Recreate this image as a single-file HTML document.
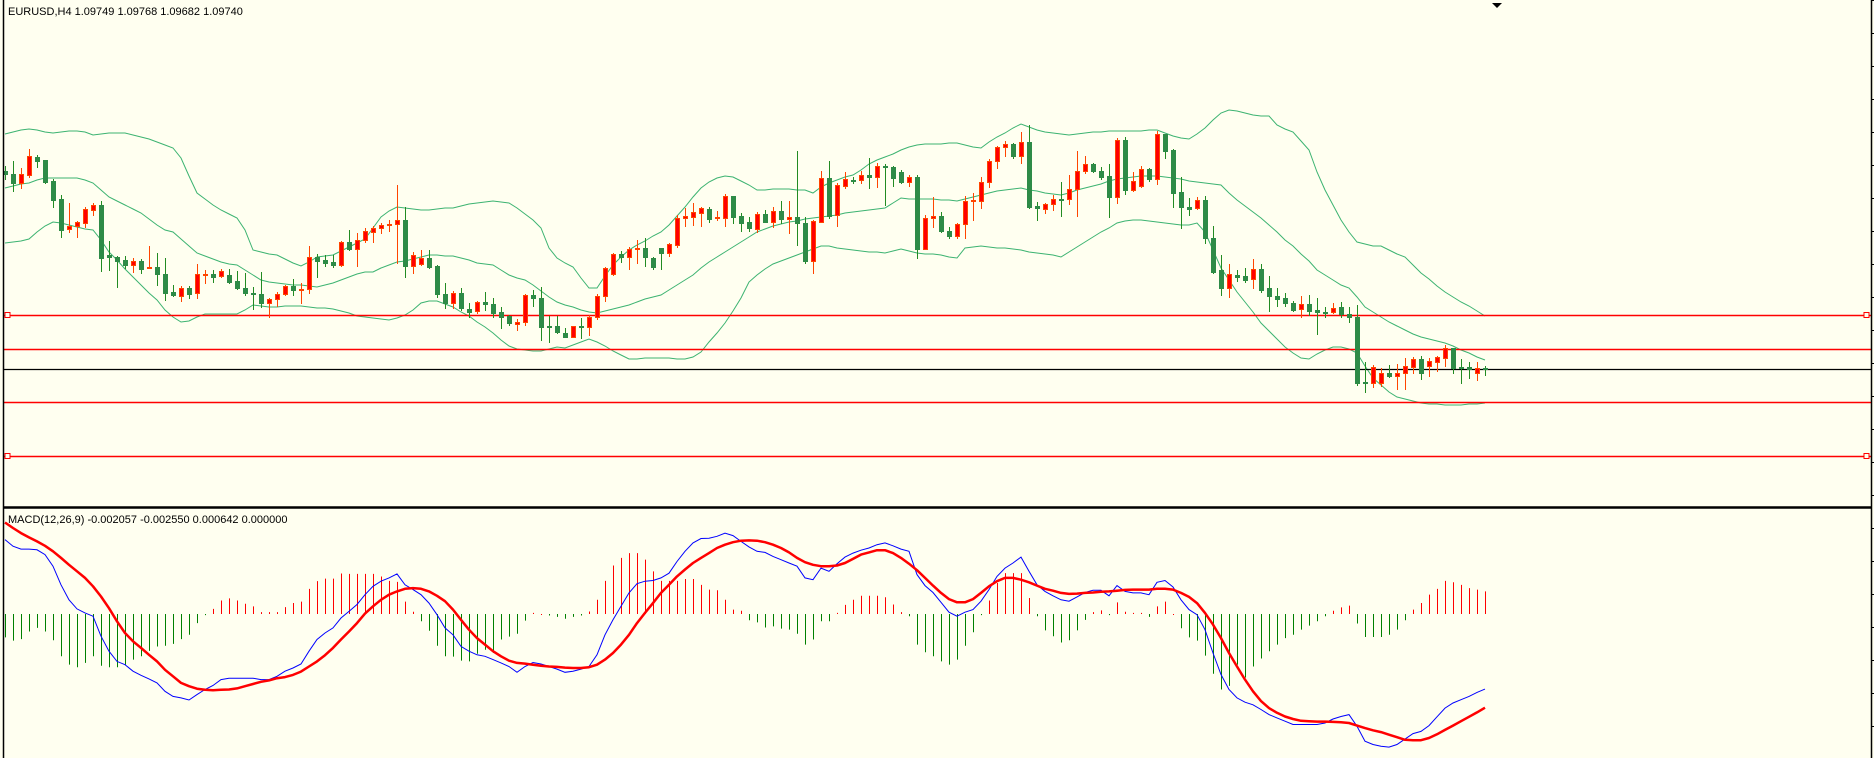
<!DOCTYPE html>
<html><head><meta charset="utf-8"><title>EURUSD H4</title>
<style>
html,body{margin:0;padding:0;background:#FFFFF0;}
svg{display:block;}
text{font-family:"Liberation Sans",sans-serif;font-size:11px;fill:#000;}
</style></head>
<body>
<svg id="chart" width="1874" height="758" viewBox="0 0 1874 758" xmlns="http://www.w3.org/2000/svg">
<rect x="0" y="0" width="1874" height="758" fill="#FFFFF0"/>
<g id="bands"></g>
<g id="levels"></g>
<g id="candles"></g>
<g id="macd"></g>
<line x1="3.5" y1="0" x2="3.5" y2="758" stroke="#000" stroke-width="1.5"/>
<line x1="1871.5" y1="0" x2="1871.5" y2="758" stroke="#000" stroke-width="1.5"/>
<line x1="3" y1="507.5" x2="1872" y2="507.5" stroke="#000" stroke-width="2.5"/>
<polygon points="1492,3 1502,3 1497,8" fill="#000"/>
<text x="8" y="15">EURUSD,H4  1.09749 1.09768 1.09682 1.09740</text>
<text x="8" y="523">MACD(12,26,9) -0.002057 -0.002550 0.000642 0.000000</text>
</svg>
<script>
// prices are in points above 1.09000 (1 point = 0.00001)
const openPts=[829,826,817,825,843,840,819,801,771,774,777,790,795,745,743,740,735,739,732,733,
726,708,704,712,707,725,726,724,725,719,712,707,706,697,701,706,714,710,711,743,
740,738,735,758,751,760,768,772,775,776,780,734,736,742,734,706,697,707,691,689,
698,696,688,684,676,678,705,702,674,674,667,663,674,673,683,704,726,746,743,751,
752,742,752,747,755,782,783,787,791,782,782,804,784,778,771,786,778,789,781,783,
777,739,778,822,785,814,820,820,825,823,834,833,828,818,823,751,782,784,769,764,
776,799,799,818,839,853,856,844,858,794,791,796,801,801,811,829,836,829,824,803,
860,810,814,831,821,866,850,808,793,792,800,762,730,712,725,724,721,731,712,704,
702,697,691,696,690,688,688,693,686,683,618,617,617,627,624,627,633,641,634,638,
642,652,633,633,627,632];
const highPts=[834,839,832,851,845,840,821,805,797,779,793,797,799,759,744,744,742,741,754,747,
742,715,714,714,736,730,730,731,731,729,727,713,728,702,708,715,721,717,754,746,
745,745,759,770,767,772,774,777,780,815,793,748,750,750,735,717,709,712,697,699,
708,702,693,685,681,706,710,713,684,684,672,674,682,685,706,733,747,749,753,760,
762,743,752,757,785,792,797,793,793,789,806,804,787,783,788,790,793,799,799,849,
783,780,829,839,817,828,823,829,842,837,836,834,830,825,825,785,803,788,773,777,
804,807,823,841,854,859,857,868,875,798,797,805,818,825,849,844,837,833,836,862,
863,828,834,832,869,866,851,823,802,803,804,774,745,736,730,732,741,736,724,712,
707,699,704,705,702,693,697,698,693,695,638,635,632,635,636,642,643,644,642,644,
655,652,641,638,638,634];
const lowPts=[821,809,812,823,833,817,793,763,768,763,773,785,729,730,713,732,728,727,732,715,
700,704,699,702,702,717,718,723,717,711,705,691,693,683,694,705,705,697,707,723,
734,733,734,750,734,758,758,767,769,737,723,727,735,732,703,692,692,690,683,687,
690,683,672,675,670,675,694,660,658,667,663,663,662,665,681,699,725,738,731,737,
734,731,731,744,753,774,775,774,778,780,774,777,769,769,768,778,773,777,767,755,
737,727,778,782,774,812,817,817,812,813,795,814,817,814,742,751,773,768,762,762,
762,780,792,813,832,844,842,837,792,780,787,790,784,796,784,827,828,821,783,797,
806,809,813,819,816,842,793,772,785,791,757,727,705,703,719,718,712,708,689,694,
694,689,683,685,666,683,687,683,678,615,608,613,614,623,611,611,627,621,624,629,
634,627,617,622,620,625];
const closePts=[826,817,826,844,839,818,800,770,774,778,791,795,742,743,739,735,739,731,733,726,
707,705,712,706,726,726,723,729,718,712,707,706,697,701,706,714,710,711,743,739,
737,735,758,751,760,769,772,775,776,780,734,745,742,733,706,697,707,692,688,698,
696,687,683,677,678,705,702,673,673,668,663,674,673,683,704,732,746,743,751,752,
743,733,747,756,782,784,788,792,781,783,804,783,777,772,786,778,789,781,783,777,
739,779,822,784,815,821,819,825,823,834,833,822,818,823,751,782,784,769,764,776,
799,800,818,839,853,856,844,858,793,792,796,801,800,811,829,836,829,823,803,860,
810,819,831,821,866,849,807,793,791,800,762,728,712,726,723,720,731,710,704,701,
697,690,696,689,688,687,692,686,683,617,617,633,627,624,627,634,641,627,639,643,
652,632,632,631,632,631];
const bbUpper=[866,868,870,871,870,868,867,868,869,869,868,865,866,867,867,867,865,863,861,858,
855,852,842,824,807,801,795,790,786,782,770,750,748,746,745,741,737,734,738,743,
744,745,749,753,757,761,772,783,789,793,792,791,790,790,791,792,792,794,796,797,
798,799,798,797,792,786,780,772,752,742,737,733,722,712,712,724,735,743,750,755,
759,764,768,775,784,793,803,812,818,822,824,823,819,815,810,810,811,811,811,810,
810,807,813,817,820,823,825,830,836,840,843,846,850,853,855,856,856,856,857,857,
855,853,852,858,863,867,872,876,873,870,868,867,866,865,866,867,868,868,869,869,
869,869,869,870,870,867,864,862,861,866,872,880,887,890,889,887,885,884,884,875,
871,868,859,850,828,810,795,780,768,758,756,754,754,750,746,743,735,727,721,714,
708,703,698,694,689,684];
const bbMiddle=[812,814,816,817,820,822,822,822,822,822,820,817,810,803,799,795,791,787,781,775,
770,768,761,754,747,744,741,738,736,735,730,725,720,718,717,716,715,715,714,713,
715,717,720,723,726,728,728,732,735,738,739,741,743,745,745,744,744,742,740,737,
736,735,730,725,722,720,715,709,703,698,695,693,690,688,687,689,691,693,695,698,
701,703,705,710,715,720,725,732,738,743,748,753,758,763,768,771,774,776,778,779,
781,782,783,784,785,787,788,789,790,791,792,797,802,801,801,801,801,800,800,799,
801,803,805,807,809,810,811,812,810,809,807,806,805,807,810,812,814,816,819,821,
822,823,824,824,824,823,822,821,819,818,817,816,815,807,800,794,788,782,775,768,
760,754,746,739,730,725,720,715,712,703,693,688,683,678,674,670,666,663,661,659,
657,654,650,647,643,640];
const bbLower=[757,758,759,761,768,774,778,777,775,773,771,770,760,748,740,731,723,715,707,700,
690,683,678,679,683,686,686,686,686,686,690,695,694,693,693,694,694,694,693,692,
692,691,689,687,684,683,682,681,680,682,685,690,697,699,699,696,693,688,684,678,
673,667,660,654,651,650,649,649,651,653,652,655,658,661,658,654,649,645,641,641,
642,642,642,642,641,641,643,648,658,667,677,689,702,718,725,731,736,739,742,745,
748,751,754,754,752,751,750,749,748,748,747,749,751,749,747,746,746,745,743,742,
752,753,754,753,752,752,751,750,748,747,746,745,743,748,753,758,763,768,772,777,
779,780,780,779,778,777,776,775,775,777,768,750,732,720,708,698,688,677,669,661,
653,647,642,641,646,650,653,653,651,647,634,622,615,608,603,601,599,597,596,596,
595,595,595,596,596,597];
const redLevels=[685,651,598,544];
const currentPricePts=[631];
// MACD values in units of 0.0001
const macdHist=[-6.4,-7.3,-6.9,-4.8,-3.8,-4.8,-7.2,-11.6,-13.9,-14.6,-13.4,-11.6,-14.2,-14.6,-14.6,-13.9,-12.5,-11.6,-10.1,-8.9,
-8.7,-8.2,-6.9,-5.7,-2.5,-0.3,1.4,3.7,4.3,3.7,2.8,2.1,0.5,0.5,0.5,1.9,3.0,3.4,6.9,9.0,
9.7,9.7,11.1,11.0,11.0,11.0,11.0,10.3,9.1,8.8,3.4,0.6,-2.0,-4.6,-8.7,-11.6,-11.7,-12.8,-13.0,-10.9,
-9.8,-10.7,-7.0,-6.2,-5.4,-1.8,0.3,0,-0.4,-0.8,-1.3,-0.8,-0.4,0.7,3.9,9.1,13.3,15.4,16.7,16.7,
14.9,11.7,9.1,9.1,9.1,9.6,9.6,8.0,6.7,6.5,3.9,1.2,0.9,-1.7,-2.3,-3.7,-3.4,-4.0,-4.3,-5.4,
-8.4,-7.0,-2.0,-2.0,0.3,2.5,3.9,5.0,5.0,5.0,4.6,2.6,0.5,-0.6,-8.4,-10.5,-11.6,-13.0,-13.9,-12.5,
-8.7,-5.0,-0.3,3.7,8.5,11.2,11.2,11.2,4.4,-0.6,-4.5,-6.1,-7.8,-7.2,-4.5,-1.6,0.5,1.0,-0.3,3.2,
0.6,0.3,0.3,-0.8,2.1,3.4,0,-3.9,-6.4,-7.3,-11.4,-16.4,-20.7,-19.7,-13.9,-17.4,-14.4,-12.2,-10.2,-8.4,
-6.6,-5.7,-4.3,-3.2,-2.0,-0.6,0.9,1.8,2.3,-2.6,-6.3,-6.3,-6.3,-5.7,-4.3,-1.7,1.2,3.0,5.3,6.9,
9.1,8.7,8.0,7.1,6.7,6.2];
const macdMain=[20.4,18.6,17.8,17.8,17.6,16.3,13.1,8.0,3.9,1.4,0.3,-0.6,-6.1,-10.2,-13.0,-13.9,-15.7,-16.8,-17.8,-18.9,
-21.2,-22.6,-23.0,-23.6,-22.1,-20.7,-19.6,-18.0,-17.6,-17.6,-17.6,-17.6,-18.0,-18.0,-17.1,-15.7,-14.8,-13.7,-10.2,-7.0,
-5.2,-3.8,-1.1,0.7,2.6,5.3,7.6,9.0,9.9,11.0,8.0,6.7,5.3,3.0,-0.2,-3.8,-5.7,-8.9,-10.2,-11.2,
-11.6,-12.5,-13.4,-14.4,-16.0,-14.4,-13.3,-13.7,-14.4,-15.1,-16.0,-15.7,-15.1,-14.4,-11.2,-5.7,-1.6,2.1,5.8,8.3,
9.0,9.2,9.9,11.2,14.4,17.2,19.5,20.7,20.8,21.3,22.2,21.5,19.9,18.4,17.2,16.9,15.8,14.9,14.0,13.1,
9.9,9.4,12.6,11.7,13.8,15.6,16.7,17.5,18.1,19.0,19.5,18.7,17.8,17.2,10.8,7.8,5.9,3.2,0.5,-0.6,
0.5,1.2,3.5,6.7,10.3,12.6,14.0,15.6,11.7,8.0,6.2,5.0,3.9,3.5,4.7,5.9,6.5,6.5,5.0,7.8,
6.2,5.8,5.8,5.3,8.7,9.2,7.4,3.9,1.2,-0.2,-4.3,-10.7,-16.6,-20.7,-23.0,-24.2,-24.9,-26.2,-27.6,-28.5,
-29.4,-30.3,-30.3,-30.3,-30.3,-29.9,-28.8,-28.1,-27.6,-30.8,-34.9,-35.8,-36.3,-36.5,-35.8,-34.3,-32.8,-32.2,-30.6,-28.2,
-25.8,-24.4,-23.5,-22.6,-21.5,-20.6];
const macdSignal=[25.1,23.6,22.2,21.0,19.9,18.7,17.2,15.4,13.5,11.7,9.9,7.6,4.8,1.6,-2.0,-5.2,-7.5,-9.3,-11.2,-13.0,
-15.3,-17.1,-18.9,-19.8,-20.5,-20.8,-20.9,-20.8,-20.7,-20.4,-19.8,-19.2,-18.6,-18.2,-17.6,-17.3,-16.7,-15.8,-14.4,-13.0,
-11.3,-9.3,-7.0,-4.8,-2.5,0.1,2.1,3.9,5.3,6.2,6.9,7.1,6.9,6.2,5.0,3.5,1.2,-1.6,-4.3,-6.6,
-8.4,-10.2,-11.6,-12.8,-13.4,-13.6,-13.9,-14.2,-14.4,-14.5,-14.7,-14.8,-14.8,-14.6,-13.9,-12.5,-10.7,-8.4,-5.7,-2.5,
0.3,3.0,5.8,8.0,10.3,12.2,14.0,15.4,16.7,18.1,19.0,19.7,20.1,20.2,20.1,19.7,19.0,18.1,16.9,15.4,
14.2,13.5,13.1,13.1,13.3,14.0,15.1,16.3,16.9,17.5,17.5,16.7,15.4,13.8,12.0,9.9,7.8,5.8,4.1,3.2,
3.2,4.1,5.8,7.6,9.0,9.9,9.9,9.4,8.7,7.8,6.9,6.4,5.8,5.5,5.6,5.8,5.9,6.1,6.2,6.4,
6.6,6.7,6.7,6.7,6.9,6.9,6.7,5.8,4.7,3.0,0.3,-2.9,-6.6,-10.7,-14.4,-18.0,-21.2,-23.9,-25.8,-27.1,
-28.1,-28.8,-29.3,-29.4,-29.5,-29.5,-29.6,-29.7,-29.9,-30.6,-31.3,-31.9,-32.4,-33.1,-33.8,-34.5,-34.6,-34.6,-34.0,-33.0,
-31.8,-30.6,-29.4,-28.2,-27.0,-25.7];

const NS='http://www.w3.org/2000/svg';
function xAt(i){return 5+8*i;}
function yPrice(p){return 1000-p;}
function yMacd(v){return 614-v*3.646;}
function mk(tag,attrs,parent){const e=document.createElementNS(NS,tag);for(const k in attrs)e.setAttribute(k,attrs[k]);parent.appendChild(e);return e;}

// Bollinger bands
const gB=document.getElementById('bands');
[[bbUpper,'bb-upper-band'],[bbMiddle,'bb-middle-band'],[bbLower,'bb-lower-band']].forEach(function(pair){
  const pts=pair[0].map(function(v,i){return xAt(i)+','+yPrice(v).toFixed(1);}).join(' ');
  const pl=mk('polyline',{points:pts,fill:'none',stroke:'#3CB371','stroke-width':'1'},gB);
  
  
});

// levels
const gL=document.getElementById('levels');
redLevels.forEach(function(lv,k){
  const y=Math.round(yPrice(lv))+0.5;
  const ln=mk('line',{x1:4,y1:y,x2:1871,y2:y,stroke:'#FF0000','stroke-width':'1.5'},gL);
  
  
  if(k===0||k===3){
    const s1=mk('rect',{x:5,y:y-3,width:5,height:5,fill:'#FFFFF0',stroke:'#FF0000','stroke-width':'1'},gL);
    
    
    const s2=mk('rect',{x:1864,y:y-3,width:5,height:5,fill:'#FFFFF0',stroke:'#FF0000','stroke-width':'1'},gL);
    
    
  }
});
currentPricePts.forEach(function(lv){
  const y=Math.round(yPrice(lv))+0.5;
  const ln=mk('line',{x1:4,y1:y,x2:1871,y2:y,stroke:'#000','stroke-width':'1.2'},gL);
  
  
});
// right axis ticks
for(let t=0;t<23;t++){
  const tk=mk('line',{x1:1871,y1:33*t+0.5,x2:1874,y2:33*t+0.5,stroke:'#000','stroke-width':'1'},gL);
  
  
}

// candles
const gC=document.getElementById('candles');
closePts.forEach(function(c,i){
  const o=openPts[i],h=highPts[i],l=lowPts[i];
  const bull=c>=o;
  const x=xAt(i);
  const wc=bull?'#FF4500':'#228B22';
  const w=mk('line',{x1:x+0.5,y1:yPrice(h),x2:x+0.5,y2:yPrice(l)+1,stroke:wc,'stroke-width':'1'},gC);
  
  
  const top=yPrice(Math.max(o,c)),bot=yPrice(Math.min(o,c));
  const b=mk('rect',{x:x-1.5,y:top+0.5,width:4,height:Math.max(bot-top,0.5),fill:bull?'#FF0000':'#2E8B47',stroke:bull?'#FF4500':'#2E8B47','stroke-width':'1'},gC);
  
  
});

// MACD
const gM=document.getElementById('macd');
macdHist.forEach(function(v,i){
  const x=xAt(i)+0.5;
  const bar=mk('line',{x1:x,y1:yMacd(0),x2:x,y2:yMacd(v)+(v===0?1:0),stroke:v>=0?'#FF0000':'#008000','stroke-width':'1'},gM);
  
  
});
const mainLine=mk('polyline',{points:macdMain.map(function(v,i){return xAt(i)+','+yMacd(v).toFixed(1);}).join(' '),fill:'none',stroke:'#0000FF','stroke-width':'1'},gM);


const sigLine=mk('polyline',{points:macdSignal.map(function(v,i){return xAt(i)+','+yMacd(v).toFixed(1);}).join(' '),fill:'none',stroke:'#FF0000','stroke-width':'2.5','stroke-linejoin':'round'},gM);


</script>
</body></html>
